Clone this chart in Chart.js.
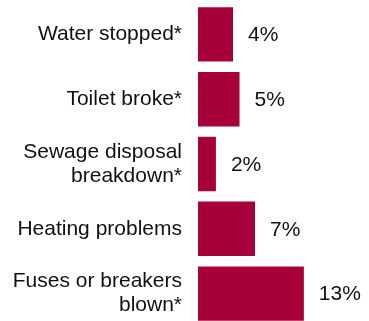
<!DOCTYPE html>
<html>
<head>
<meta charset="utf-8">
<script src="https://cdn.jsdelivr.net/npm/chart.js@4"></script>
<style>
    html, body { margin: 0; padding: 0; background: #fff; overflow: hidden; }
</style>
</head>
<body>
<canvas id="problemsChart" width="369" height="326"></canvas>
<script>
var categories = [
    ['Water stopped*'],
    ['Toilet broke*'],
    ['Sewage disposal', 'breakdown*'],
    ['Heating problems'],
    ['Fuses or breakers', 'blown*']
];
var percentages = [4.3, 5.1, 2.2, 7.0, 13.0];
var valueLabels = ['4%', '5%', '2%', '7%', '13%'];

(function () {
    var canvas = document.getElementById('problemsChart');
    var fontFamily = '"Liberation Sans", Arial, sans-serif';
    var textColor = '#111';

    // draws the percent text right of each bar
    var valueLabelPlugin = {
        id: 'valueLabels',
        afterDatasetsDraw: function (chart) {
            var ctx = chart.ctx;
            var meta = chart.getDatasetMeta(0);
            ctx.save();
            ctx.font = '21px ' + fontFamily;
            ctx.fillStyle = textColor;
            ctx.textAlign = 'left';
            ctx.textBaseline = 'middle';
            meta.data.forEach(function (bar, i) {
                ctx.fillText(valueLabels[i], bar.x + 15, bar.y + 1);
            });
            ctx.restore();
        }
    };

    new Chart(canvas, {
        type: 'bar',
        data: {
            labels: categories,
            datasets: [{
                data: percentages,
                backgroundColor: '#a8003a',
                borderWidth: 0,
                barPercentage: 0.84,
                categoryPercentage: 1
            }]
        },
        options: {
            indexAxis: 'y',
            responsive: false,
            animation: false,
            layout: { padding: { top: 2, bottom: 0, left: 0, right: 0 } },
            plugins: {
                legend: { display: false },
                tooltip: { enabled: false }
            },
            scales: {
                x: {
                    display: false,
                    min: 0,
                    max: 21
                },
                y: {
                    grid: { display: false },
                    border: { display: false },
                    ticks: {
                        color: textColor,
                        padding: 8,
                        font: { family: fontFamily, size: 21, lineHeight: 1.15 }
                    },
                    afterFit: function (scale) {
                        scale.width = 198;
                        scale.paddingTop = 0;
                        scale.paddingBottom = 0;
                    }
                }
            }
        },
        plugins: [valueLabelPlugin]
    });
})();
</script>
</body>
</html>
